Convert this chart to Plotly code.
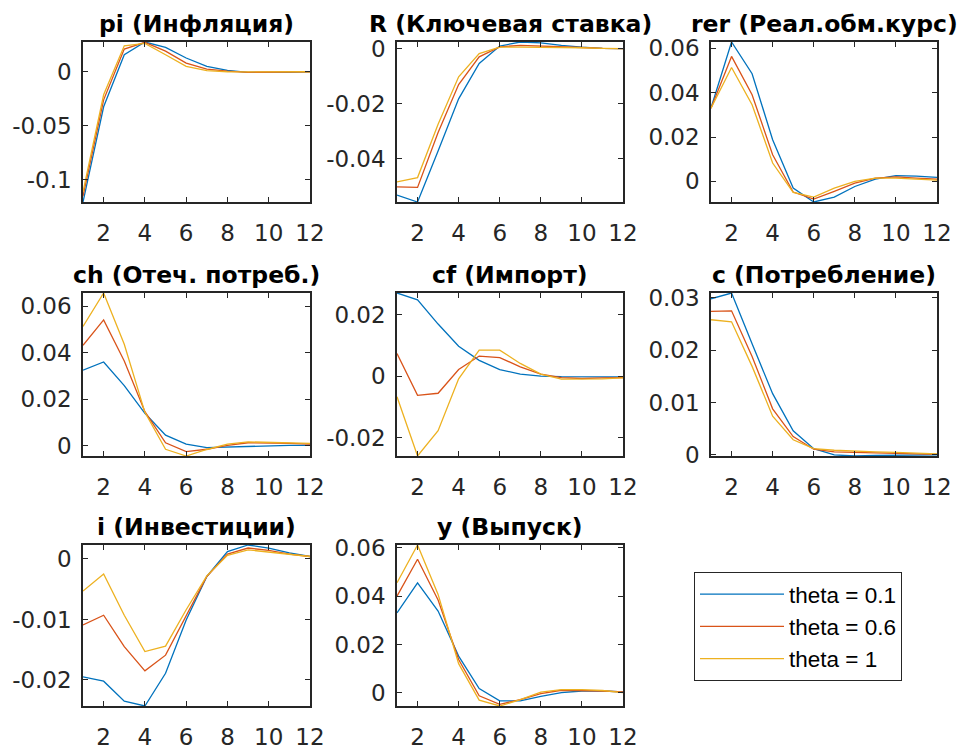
import plotly.graph_objects as go

periods = list(range(1, 13))
series_names = ["theta = 0.1", "theta = 0.6", "theta = 1"]
series_colors = ["#0072BD", "#D95319", "#EDB120"]

titles = ["pi (Инфляция)", "R (Ключевая ставка)", "rer (Реал.обм.курс)",
          "ch (Отеч. потреб.)", "cf (Импорт)", "c (Потребление)",
          "i (Инвестиции)", "y (Выпуск)"]

pi_t01 = [-0.1204, -0.0324, 0.0157, 0.0275, 0.0225, 0.0127, 0.0050, 0.0012, -0.0005, -0.0008, -0.0005, 0.0]
pi_t06 = [-0.1150, -0.0260, 0.0210, 0.0272, 0.0190, 0.0080, 0.0025, 0.0005, -0.0005, -0.0005, -0.0003, 0.0]
pi_t1 = [-0.1110, -0.0213, 0.0240, 0.0262, 0.0157, 0.0050, 0.0010, 0.0, -0.0002, -0.0002, -0.0001, 0.0]

R_t01 = [-0.0533, -0.0558, -0.0372, -0.0182, -0.0053, 0.0010, 0.0025, 0.0022, 0.0013, 0.0006, 0.0002, 0.0001]
R_t06 = [-0.0503, -0.0505, -0.0305, -0.0130, -0.0029, 0.0007, 0.0013, 0.0011, 0.0007, 0.0005, 0.0002, 0.0001]
R_t1 = [-0.0485, -0.0469, -0.0275, -0.0102, -0.0017, 0.0006, 0.0006, 0.0006, 0.0005, 0.0004, 0.0002, 0.0001]

rer_t01 = [0.0331, 0.0629, 0.0486, 0.0188, -0.0030, -0.0093, -0.0071, -0.0023, 0.0010, 0.0026, 0.0024, 0.0018]
rer_t06 = [0.0330, 0.0564, 0.0391, 0.0120, -0.0048, -0.0080, -0.0045, -0.0008, 0.0015, 0.0020, 0.0015, 0.0010]
rer_t1 = [0.0330, 0.0514, 0.0346, 0.0083, -0.0050, -0.0071, -0.0030, 0.0, 0.0015, 0.0015, 0.0010, 0.0006]

ch_t01 = [0.0325, 0.0360, 0.0258, 0.0139, 0.0045, 0.0006, -0.0009, -0.0006, -0.0003, 0.0, 0.0001, 0.0001]
ch_t06 = [0.0432, 0.0541, 0.0364, 0.0146, 0.0012, -0.0026, -0.0016, 0.0001, 0.0012, 0.0012, 0.0009, 0.0006]
ch_t1 = [0.0513, 0.0657, 0.0436, 0.0143, -0.0016, -0.0045, -0.0017, 0.0006, 0.0016, 0.0013, 0.0010, 0.0009]

cf_t01 = [0.0271, 0.0249, 0.0170, 0.0098, 0.0052, 0.0022, 0.0007, 0.0001, -0.0001, -0.0002, -0.0002, -0.0002]
cf_t06 = [0.0074, -0.0062, -0.0055, 0.0022, 0.0066, 0.0061, 0.0031, 0.0007, -0.0004, -0.0007, -0.0005, -0.0004]
cf_t1 = [-0.0066, -0.0259, -0.0177, -0.0008, 0.0085, 0.0085, 0.0042, 0.0007, -0.0009, -0.0009, -0.0008, -0.0005]

c_t01 = [0.0298, 0.0309, 0.0212, 0.0117, 0.0046, 0.0012, 0.0, -0.0002, -0.0001, -0.0001, 0.0, 0.0]
c_t06 = [0.0274, 0.0275, 0.0188, 0.0088, 0.0035, 0.0011, 0.0006, 0.0005, 0.0004, 0.0003, 0.0002, 0.0001]
c_t1 = [0.0258, 0.0254, 0.0169, 0.0074, 0.0029, 0.0012, 0.0009, 0.0007, 0.0006, 0.0005, 0.0003, 0.0002]

i_t01 = [-0.0195, -0.0202, -0.0235, -0.0243, -0.0189, -0.0101, -0.0029, 0.0012, 0.0023, 0.0018, 0.0010, 0.0004]
i_t06 = [-0.0109, -0.0093, -0.0145, -0.0185, -0.0159, -0.0093, -0.0029, 0.0008, 0.0018, 0.0014, 0.0008, 0.0004]
i_t1 = [-0.0053, -0.0025, -0.0093, -0.0153, -0.0144, -0.0084, -0.0028, 0.0006, 0.0015, 0.0011, 0.0008, 0.0004]

y_t01 = [0.0331, 0.0455, 0.0338, 0.0152, 0.0018, -0.0033, -0.0033, -0.0014, 0.0001, 0.0008, 0.0008, 0.0004]
y_t06 = [0.0400, 0.0552, 0.0384, 0.0138, -0.0012, -0.0047, -0.0028, -0.0003, 0.0011, 0.0011, 0.0008, 0.0004]
y_t1 = [0.0455, 0.0611, 0.0407, 0.0121, -0.0030, -0.0054, -0.0028, 0.0003, 0.0014, 0.0014, 0.0010, 0.0001]

panels = [
    [pi_t01, pi_t06, pi_t1],
    [R_t01, R_t06, R_t1],
    [rer_t01, rer_t06, rer_t1],
    [ch_t01, ch_t06, ch_t1],
    [cf_t01, cf_t06, cf_t1],
    [c_t01, c_t06, c_t1],
    [i_t01, i_t06, i_t1],
    [y_t01, y_t06, y_t1],
]

x_tickvals = [2, 4, 6, 8, 10, 12]
x_ticktext = ["2", "4", "6", "8", "10", "12"]

y_tickvals = [
    [-0.1, -0.05, 0],
    [-0.04, -0.02, 0],
    [0, 0.02, 0.04, 0.06],
    [0, 0.02, 0.04, 0.06],
    [-0.02, 0, 0.02],
    [0, 0.01, 0.02, 0.03],
    [-0.02, -0.01, 0],
    [0, 0.02, 0.04, 0.06],
]
y_ticktext = [
    ["-0.1", "-0.05", "0"],
    ["-0.04", "-0.02", "0"],
    ["0", "0.02", "0.04", "0.06"],
    ["0", "0.02", "0.04", "0.06"],
    ["-0.02", "0", "0.02"],
    ["0", "0.01", "0.02", "0.03"],
    ["-0.02", "-0.01", "0"],
    ["0", "0.02", "0.04", "0.06"],
]

W, H = 959, 749
col_px = [(83, 310), (397, 623), (711, 937)]
row_px = [(42, 202), (293, 456), (545, 706)]

TICKFONT = "DejaVu Sans, sans-serif"
LEGFONT = "Liberation Sans, Arial, Helvetica, sans-serif"
AXC = "#262626"

fig = go.Figure()
annotations = []
for k, (title, data) in enumerate(zip(titles, panels)):
    r, c = divmod(k, 3)
    idx = "" if k == 0 else str(k + 1)
    xa, ya = "x" + idx, "y" + idx
    for s in range(3):
        fig.add_trace(go.Scatter(
            x=periods, y=data[s], mode="lines", xaxis=xa, yaxis=ya,
            name=series_names[s], legendgroup=series_names[s],
            showlegend=(k == 0),
            line=dict(color=series_colors[s], width=1.3),
        ))
    allv = [v for srs in data for v in srs]
    x0, x1 = col_px[c]
    y0, y1 = row_px[r]
    common = dict(showline=True, mirror="allticks", linecolor=AXC, linewidth=1.5,
                  ticks="inside", ticklen=5, tickcolor=AXC, tickwidth=1,
                  showgrid=False, zeroline=False, automargin=False,
                  tickfont=dict(family=TICKFONT, size=23, color=AXC))
    fig.layout["xaxis" + idx] = dict(
        domain=[x0 / W, x1 / W], range=[1, 12], anchor=ya,
        tickvals=x_tickvals, ticktext=x_ticktext, ticklabelstandoff=10, **common)
    fig.layout["yaxis" + idx] = dict(
        domain=[1 - y1 / H, 1 - y0 / H], range=[min(allv), max(allv)], anchor=xa,
        tickvals=y_tickvals[k], ticktext=y_ticktext[k], ticklabelstandoff=5, **common)
    annotations.append(dict(
        text="<b>" + title + "</b>", x=(x0 + x1) / 2 / W, y=1 - (y0 - 18) / H,
        xref="paper", yref="paper", xanchor="center", yanchor="middle",
        showarrow=False, font=dict(family=TICKFONT, size=23.5, color="#000000")))

fig.update_layout(
    width=W, height=H,
    margin=dict(l=0, r=0, t=0, b=0),
    paper_bgcolor="white", plot_bgcolor="white",
    annotations=annotations,
    showlegend=True,
    legend=dict(x=694 / W, y=1 - 572 / H, xanchor="left", yanchor="top",
                bordercolor=AXC, borderwidth=1, bgcolor="white",
                font=dict(family=LEGFONT, size=22.5, color="#000000"),
                itemwidth=84, tracegroupgap=0),
)

fig.write_html("out.html",
               config={"displayModeBar": False},
               post_script="document.body.style.margin='0';document.body.style.overflow='hidden';")
